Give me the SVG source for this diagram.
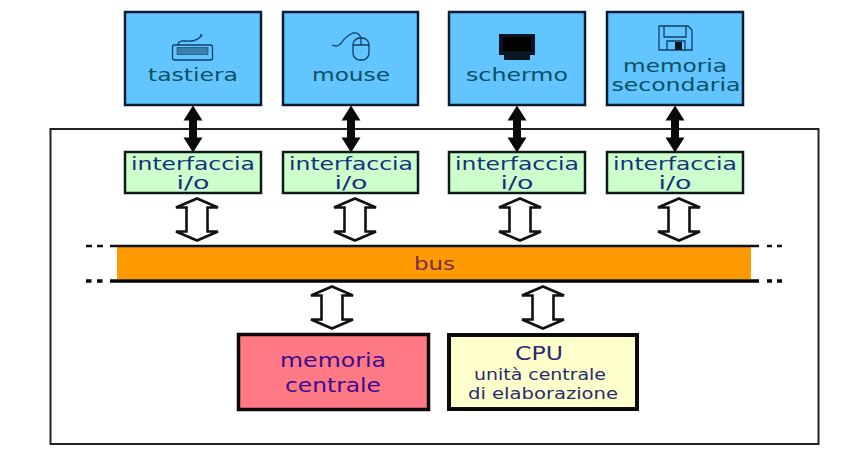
<svg xmlns="http://www.w3.org/2000/svg" width="854" height="457" viewBox="0 0 854 457">
<style>
text{font-family:"DejaVu Sans",Verdana,sans-serif;text-anchor:middle}
.dev{fill:#62c5ff;stroke:#0a1c34;stroke-width:2.5}
.devt{fill:#0b4f62;font-size:18.5px}
.io{fill:#ccffcc;stroke:#0c1c14;stroke-width:2.5}
.iot{fill:#14307e;font-size:18.5px}
.ico{fill:none;stroke:#0b3f66;stroke-width:1.3}
.w{fill:#fff;stroke:#111;stroke-width:2.6;stroke-linejoin:miter}
.k{fill:#0a0a0a}
.mem{fill:#3c0a90;font-size:20px}
.cpu{fill:#2a2a70;font-size:15.5px}
</style>
<defs>
<path id="blk" d="M0 0L9.500 15H4V32H9.500L0 47L-9.500 32H-4V15H-9.500Z"/>
<path id="wht" d="M0 0L21 9H10.500V33H21L0 42L-21 33H-10.500V9H-21Z"/>
</defs>
<rect id="frame" x="50.500" y="129" width="768" height="315" fill="#fff" stroke="#222" stroke-width="2"/>
<g id="tastiera">
<rect class="dev" x="125" y="12" width="136" height="93"/>
<g class="ico">
<rect x="172.500" y="45" width="40" height="15" rx="2"/>
<rect x="177" y="47.500" width="31" height="7" fill="#3b7fa8" stroke-width=".6"/>
<path d="M178 45Q178 40 186 41T199 38T200 35"/>
</g>
<text class="devt" x="193" y="81" textLength="90" lengthAdjust="spacingAndGlyphs">tastiera</text>
</g>
<g id="mouse">
<rect class="dev" x="283" y="12" width="135" height="93"/>
<g class="ico">
<rect x="353" y="38" width="16" height="22" rx="7"/>
<path d="M353 45H369M361 38V45M332 45Q338 48 342 42T353 33Q359 32 361 38"/>
</g>
<text class="devt" x="351" y="81" textLength="78" lengthAdjust="spacingAndGlyphs">mouse</text>
</g>
<g id="schermo">
<rect class="dev" x="449" y="12" width="136" height="93"/>
<path d="M499 34H535V55H530V60H504V55H499Z" fill="#0a1622"/>
<rect x="503" y="37" width="28" height="14" fill="#000"/>
<text class="devt" x="517" y="81" textLength="102" lengthAdjust="spacingAndGlyphs">schermo</text>
</g>
<g id="memoria-secondaria">
<rect class="dev" x="607" y="12" width="136" height="93"/>
<g class="ico">
<path d="M659 26H688L692 30V50H659Z"/>
<path d="M664 26V37H686V26M667 50V41H685V50"/>
</g>
<rect x="675" y="42" width="7" height="8" fill="#0a1622"/>
<text class="devt" x="675" y="72" textLength="104" lengthAdjust="spacingAndGlyphs">memoria</text>
<text class="devt" x="676" y="91" textLength="129" lengthAdjust="spacingAndGlyphs">secondaria</text>
</g>
<g id="io1"><rect class="io" x="125" y="152" width="136" height="41"/><text class="iot" x="193" y="169.500" textLength="124" lengthAdjust="spacingAndGlyphs">interfaccia</text><text class="iot" x="193" y="189" textLength="33" lengthAdjust="spacingAndGlyphs">i/o</text></g>
<g id="io2"><rect class="io" x="283" y="152" width="135" height="41"/><text class="iot" x="351" y="169.500" textLength="124" lengthAdjust="spacingAndGlyphs">interfaccia</text><text class="iot" x="351" y="189" textLength="33" lengthAdjust="spacingAndGlyphs">i/o</text></g>
<g id="io3"><rect class="io" x="449" y="152" width="136" height="41"/><text class="iot" x="517" y="169.500" textLength="124" lengthAdjust="spacingAndGlyphs">interfaccia</text><text class="iot" x="517" y="189" textLength="33" lengthAdjust="spacingAndGlyphs">i/o</text></g>
<g id="io4"><rect class="io" x="607" y="152" width="136" height="41"/><text class="iot" x="675" y="169.500" textLength="124" lengthAdjust="spacingAndGlyphs">interfaccia</text><text class="iot" x="675" y="189" textLength="33" lengthAdjust="spacingAndGlyphs">i/o</text></g>
<g id="bus">
<rect x="117" y="247" width="634" height="32" fill="#ff9900"/>
<text x="434.500" y="270" font-size="18.500" fill="#7a2a50" textLength="41" lengthAdjust="spacingAndGlyphs">bus</text>
</g>
<g id="memoria-centrale">
<rect x="238.500" y="334.500" width="190" height="75" fill="#ff7a85" stroke="#0a0a0a" stroke-width="3.500"/>
<text class="mem" x="333" y="367" textLength="106" lengthAdjust="spacingAndGlyphs">memoria</text>
<text class="mem" x="333" y="391.500" textLength="96" lengthAdjust="spacingAndGlyphs">centrale</text>
</g>
<g id="cpu">
<rect x="449" y="335" width="188" height="74" fill="#ffffcc" stroke="#0a0a0a" stroke-width="4"/>
<text x="539" y="360" font-size="19" fill="#2a2a70" textLength="48" lengthAdjust="spacingAndGlyphs">CPU</text>
<text class="cpu" x="540" y="379.500" textLength="132" lengthAdjust="spacingAndGlyphs">unità centrale</text>
<text class="cpu" x="543" y="399" textLength="150" lengthAdjust="spacingAndGlyphs">di elaborazione</text>
</g>
<g id="connectors">
<g class="k">
<use href="#blk" x="193" y="105.500"/>
<use href="#blk" x="351" y="105.500"/>
<use href="#blk" x="517" y="105.500"/>
<use href="#blk" x="675" y="105.500"/>
</g>
<g class="w">
<use href="#wht" x="197" y="198.500"/>
<use href="#wht" x="355" y="198.500"/>
<use href="#wht" x="520" y="198.500"/>
<use href="#wht" x="679" y="198.500"/>
<use href="#wht" x="332" y="286.500"/>
<use href="#wht" x="543" y="286.500"/>
</g>
<path d="M110 246H759M86 246H92M97 246H103M767 246H772M777 246H782" stroke="#111" stroke-width="2.500" fill="none"/>
<path d="M110 281H759M86 281H91.500M97 281H102.500M767 281H772M777 281H782" stroke="#050505" stroke-width="3.500" fill="none"/>
</g>
</svg>
